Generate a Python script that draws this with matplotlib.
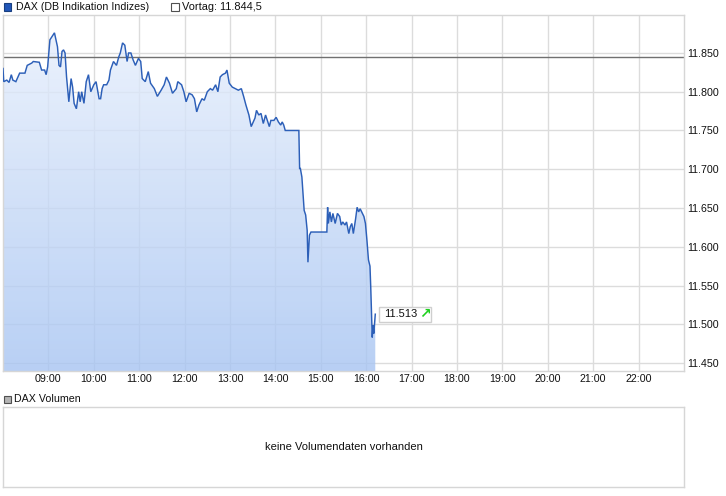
import matplotlib
matplotlib.use('Agg')
import matplotlib.pyplot as plt
import numpy as np
from matplotlib.patches import Rectangle, Polygon
from matplotlib.colors import LinearSegmentedColormap
from matplotlib.transforms import Affine2D, ScaledTranslation

plt.rcParams['font.family'] = ['Liberation Sans', 'DejaVu Sans']

# ---------------- data ----------------
times = ["08:00", "08:01", "08:05", "08:08", "08:11", "08:13", "08:17", "08:22", "08:29", "08:32",
         "08:38", "08:40", "08:48", "08:51", "08:55", "08:57", "08:59", "09:02", "09:06", "09:08",
         "09:10", "09:12", "09:14", "09:16", "09:18", "09:20", "09:22", "09:24", "09:27", "09:30",
         "09:32", "09:34", "09:37", "09:40", "09:42", "09:44", "09:47", "09:50", "09:53", "09:56",
         "10:00", "10:03", "10:07", "10:09", "10:11", "10:13", "10:17", "10:20", "10:22", "10:26",
         "10:30", "10:33", "10:35", "10:38", "10:41", "10:44", "10:46", "10:49", "10:52", "10:55",
         "10:59", "11:02", "11:04", "11:08", "11:12", "11:15", "11:20", "11:24", "11:29", "11:33",
         "11:36", "11:40", "11:44", "11:49", "11:51", "11:56", "11:59", "12:02", "12:06", "12:10",
         "12:13", "12:16", "12:19", "12:23", "12:26", "12:30", "12:34", "12:37", "12:41", "12:44",
         "12:47", "12:50", "12:54", "12:56", "12:59", "13:03", "13:07", "13:11", "13:15", "13:18",
         "13:21", "13:25", "13:28", "13:33", "13:35", "13:38", "13:41", "13:44", "13:47", "13:50",
         "13:52", "13:54", "13:58", "14:01", "14:04", "14:07", "14:09", "14:11", "14:13", "14:31",
         "14:32", "14:33", "14:35", "14:38", "14:40", "14:42", "14:43", "14:45", "14:47", "15:08",
         "15:09", "15:10", "15:12", "15:14", "15:16", "15:19", "15:22", "15:25", "15:27", "15:29",
         "15:32", "15:34", "15:37", "15:39", "15:41", "15:43", "15:46", "15:48", "15:50", "15:52",
         "15:54", "15:57", "15:59", "16:01", "16:03", "16:05", "16:06", "16:08", "16:09", "16:10",
         "16:12"]
values = [11830, 11813, 11815, 11812, 11822, 11815, 11813, 11824, 11824, 11834,
          11837, 11839, 11838, 11828, 11828, 11822, 11832, 11867, 11873, 11876,
          11867, 11858, 11834, 11832, 11852, 11854, 11850, 11819, 11787, 11817,
          11806, 11785, 11778, 11800, 11787, 11800, 11785, 11813, 11822, 11800,
          11809, 11813, 11791, 11791, 11804, 11809, 11809, 11815, 11828, 11839,
          11834, 11845, 11850, 11863, 11860, 11839, 11850, 11850, 11841, 11834,
          11843, 11839, 11817, 11813, 11826, 11811, 11804, 11794, 11802, 11809,
          11819, 11811, 11798, 11804, 11813, 11809, 11800, 11787, 11798, 11796,
          11791, 11774, 11783, 11791, 11789, 11800, 11804, 11802, 11809, 11800,
          11819, 11822, 11824, 11828, 11811, 11806, 11804, 11802, 11804, 11794,
          11783, 11770, 11755, 11766, 11776, 11770, 11772, 11759, 11770, 11761,
          11755, 11763, 11763, 11767, 11761, 11757, 11761, 11757, 11750, 11750,
          11701, 11701, 11690, 11647, 11641, 11621, 11580, 11615, 11619, 11619,
          11651, 11630, 11645, 11632, 11643, 11630, 11643, 11639, 11628, 11632,
          11628, 11632, 11617, 11626, 11630, 11617, 11636, 11651, 11645, 11649,
          11645, 11639, 11630, 11608, 11583, 11575, 11548, 11483, 11499, 11488,
          11513]
prev_close = 11844.5
y_ticks = [11450, 11500, 11550, 11600, 11650, 11700, 11750, 11800, 11850]
y_tick_labels = ["11.450", "11.500", "11.550", "11.600", "11.650", "11.700", "11.750", "11.800", "11.850"]
x_tick_labels = ["09:00", "10:00", "11:00", "12:00", "13:00", "14:00", "15:00", "16:00",
                 "17:00", "18:00", "19:00", "20:00", "21:00", "22:00"]
title_main = "DAX (DB Indikation Indizes)"
title_prev = "Vortag: 11.844,5"
title_vol = "DAX Volumen"
no_volume_text = "keine Volumendaten vorhanden"
last_label = "11.513"

def to_hours(s):
    h, m = s.split(":")
    return int(h) + int(m) / 60.0

x = np.array([to_hours(t) for t in times])
y = np.array(values, dtype=float)
x_ticks = [to_hours(t) for t in x_tick_labels]

# ---------------- layout ----------------
W, H = 726, 496
FS = 7.7
fig = plt.figure(figsize=(W / 100, H / 100), dpi=100)
fig.patch.set_facecolor('white')

def rect(x0, y0, x1, y1):
    return [x0 / W, 1 - y1 / H, (x1 - x0) / W, (y1 - y0) / H]

ax = fig.add_axes(rect(3, 15, 684, 371))
xmin, xmax = 8.0, 23.0
ymin, ymax = 11439.7, 11899.0
ax.set_xlim(xmin, xmax)
ax.set_ylim(ymin, ymax)

grid_col = '#dcdcdc'
ax.set_xticks(x_ticks)
ax.set_xticklabels(x_tick_labels)
ax.set_yticks(y_ticks)
ax.set_yticklabels(y_tick_labels)
ax.yaxis.tick_right()
ax.tick_params(axis='y', length=0, pad=2.3, labelsize=FS, colors='#111111')
ax.tick_params(axis='x', length=0, pad=2.0, labelsize=FS, colors='#111111')
ax.grid(True, color=grid_col, lw=1.0)
ax.set_axisbelow(True)
for sp in ax.spines.values():
    sp.set_color('#d6d6d6')
    sp.set_linewidth(1.0)

# gradient fill under the line
c_top = (0.917, 0.945, 0.990)
c_bot = (0.655, 0.770, 0.950)
cmap = LinearSegmentedColormap.from_list('g', [c_bot, c_top])
grad = np.linspace(0, 1, 256).reshape(-1, 1)
im = ax.imshow(grad, extent=[xmin, xmax, ymin, ymax], origin='lower', aspect='auto',
               cmap=cmap, alpha=0.8, zorder=1, interpolation='bicubic')
verts = [(x[0], ymin)] + list(zip(x, y)) + [(x[-1], ymin)]
poly = Polygon(verts, closed=True, facecolor='none', edgecolor='none', transform=ax.transData)
ax.add_patch(poly)
im.set_clip_path(poly)

ax.axhline(prev_close, color='#707070', lw=1.0, zorder=2.5)
ax.plot(x, y, color='#2c5fb8', lw=1.05, zorder=3, solid_joinstyle='miter')

# last value label box
anchor = ScaledTranslation(x[-1], y[-1], ax.transData)
box = Rectangle((4, -8), 52, 15, facecolor='white', edgecolor='#cfcfcf', lw=1.0,
                transform=Affine2D() + anchor, clip_on=False, zorder=5)
ax.add_artist(box)
ax.text(8.5, 0, last_label, transform=Affine2D() + anchor, fontsize=FS + 0.3, color='#111111',
        ha='left', va='center', zorder=6, clip_on=False)
ax.text(43.5, 0.5, "\u2197", transform=Affine2D() + anchor, fontsize=10, color='#1fd11f',
        ha='left', va='center', fontweight='bold', zorder=6, clip_on=False,
        family=['DejaVu Sans'])

# header legend
def px_rect(x0, y0, w, h, fc, ec):
    r = Rectangle((x0 / W, 1 - (y0 + h) / H), w / W, h / H, transform=fig.transFigure,
                  facecolor=fc, edgecolor=ec, lw=0.8)
    fig.add_artist(r)

px_rect(3.5, 3, 7.5, 7.5, '#2156b8', '#183f80')
fig.text(16 / W, 1 - 7 / H, title_main, fontsize=FS, ha='left', va='center', color='#111111')
px_rect(171, 3, 7.5, 7.5, 'white', '#505050')
fig.text(182.5 / W, 1 - 7 / H, title_prev, fontsize=FS + 0.2, ha='left', va='center', color='#111111')

# volume panel
ax2 = fig.add_axes(rect(3, 407, 684, 487))
ax2.set_xticks([])
ax2.set_yticks([])
for sp in ax2.spines.values():
    sp.set_color('#d6d6d6')
    sp.set_linewidth(1.0)
ax2.text(0.5, 0.5, no_volume_text, transform=ax2.transAxes, ha='center', va='center',
         fontsize=FS + 0.3, color='#111111')
px_rect(3.5, 395.5, 7, 7, '#b4b4b4', '#505050')
fig.text(13.5 / W, 1 - 399 / H, title_vol, fontsize=FS, ha='left', va='center', color='#111111')

fig.savefig('out.png', dpi=100)
